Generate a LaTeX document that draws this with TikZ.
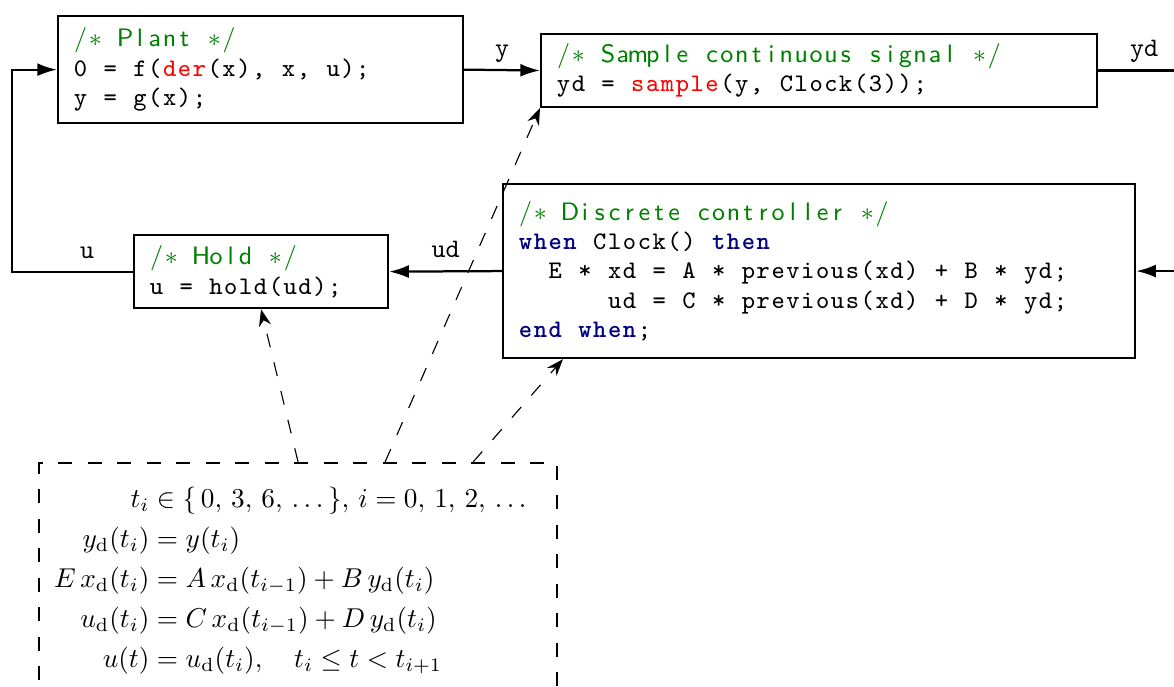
\documentclass[tikz,border=0pt]{standalone}
\usepackage{amsmath}
\usepackage{graphicx}
\usetikzlibrary{arrows.meta,calc}

\definecolor{cmtgreen}{rgb}{0,0.5,0}
\definecolor{kwblue}{rgb}{0,0,0.5}
\definecolor{fnred}{rgb}{1,0,0}

\newdimen\colw \colw=5.29pt % one fixed column of code

\ExplSyntaxOn
\NewDocumentCommand \ctext { m }
  {
    \mode_leave_vertical:
    \str_map_inline:nn {#1} { \hbox_to_wd:nn { \colw } { \hss ##1 \hss } }
  }
\NewDocumentCommand \ccmt { m }
  {
    \mode_leave_vertical:
    \group_begin: \color{cmtgreen} \sffamily
    \str_map_inline:nn {#1}
      { \hbox_to_wd:nn { \colw } { \hss \str_if_eq:nnTF {##1} {*} { $\ast$ } {##1} \hss } }
    \group_end:
  }
\ExplSyntaxOff
\newcommand{\ckw}[1]{{\color{kwblue}\bfseries\ctext{#1}}}
\newcommand{\cfn}[1]{{\color{fnred}\ctext{#1}}}

\tikzset{
  block/.style={draw, thick, anchor=north west, inner xsep=5.34pt, align=left,
    font=\fontsize{9}{10.43}\selectfont\ttfamily},
  modelbox/.style={block, dash pattern=on 5pt off 5.5pt, font=\normalsize},
  sig/.style={thick, -{Latex[length=7pt,width=4.6pt]}},
  lab/.style={above, font=\fontsize{9.5}{11}\selectfont\ttfamily, text height=1.5ex, text depth=.25ex},
  link/.style={dash pattern=on 5pt off 5.5pt, -{Stealth[length=6pt,width=4.4pt]}},
}

\begin{document}
\begin{tikzpicture}[x=0.356pt, y=-0.356pt]

\useasboundingbox (0,0) rectangle (1174,686); % Frame of the page

\node[block, text width=133.5pt, minimum height=38.1pt] (plant) at (57,15) {%
  \ccmt{/* Plant */}\\
  \ctext{0 = f(}\cfn{der}\ctext{(x), x, u);}\\
  \ctext{y = g(x);}}; % Plant

\node[block, text width=187.3pt, minimum height=25.6pt] (sample) at (540,33) {%
  \ccmt{/* Sample continuous signal */}\\
  \ctext{yd = }\cfn{sample}\ctext{(y, Clock(3));}}; % Sampler

\node[block, text width=214.3pt, minimum height=61.9pt] (controller) at (502,183) {%
  \ccmt{/* Discrete controller */}\\
  \ckw{when}\ctext{ Clock() }\ckw{then}\\
  \hspace*{2\colw}\ctext{E * xd = A * previous(xd) + B * yd;}\\
  \hspace*{6\colw}\ctext{ud = C * previous(xd) + D * yd;}\\
  \ckw{end}\ctext{ }\ckw{when}\ctext{;}}; % Controller

\node[block, text width=79.7pt, minimum height=26pt] (hold) at (133,234) {%
  \ccmt{/* Hold */}\\
  \ctext{u = hold(ud);}}; % Hold

\node[modelbox, text width=173.7pt, minimum height=84pt] (model) at (38,462) {%
  \setlength{\jot}{2.68pt}\scalebox{0.97}{$\begin{aligned}
    t_i &\in \{\,0,\,3,\,6,\,\ldots\,\},\, i = 0,\,1,\,2,\,\ldots\\
    y_{\mathrm{d}}(t_i) &= y(t_i)\\
    E\,x_{\mathrm{d}}(t_i) &= A\,x_{\mathrm{d}}(t_{i-1}) + B\,y_{\mathrm{d}}(t_i)\\
    u_{\mathrm{d}}(t_i) &= C\,x_{\mathrm{d}}(t_{i-1}) + D\,y_{\mathrm{d}}(t_i)\\
    u(t) &= u_{\mathrm{d}}(t_i), \quad t_i \le t < t_{i+1}
  \end{aligned}$}}; % Sampled-data meaning

\coordinate (back) at (12,0); % Feedback column
\coordinate (out) at (1190,0); % Off the right edge

\draw[sig] (plant.east) -- node[lab] {y} (sample.west);
\draw[thick] (sample.east) -- node[lab] {yd} (sample.east -| out);
\draw[sig] (controller.east -| out) -- (controller.east);
\draw[sig] (controller.west) -- node[lab] {ud} (hold.east);
\draw[sig] (hold.west) -- node[lab, pos=0.38] {u} (hold.west -| back) |- (plant.west);

\draw[link] (model.north) -- (hold.south);
\draw[link] ($(model.north)+(87,0)$) -- (sample.south west);
\draw[link] ($(model.north)+(175,0)$) -- ($(controller.south west)+(61,0)$);

\end{tikzpicture}
\end{document}
